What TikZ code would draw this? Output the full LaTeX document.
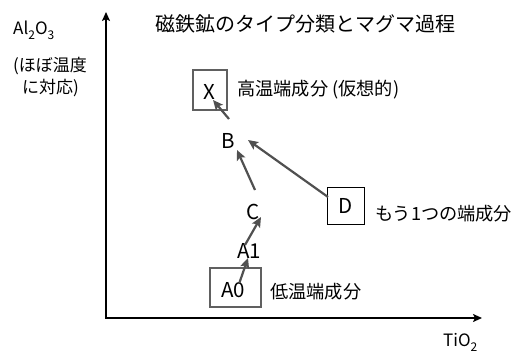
\documentclass[tikz,border=0pt]{standalone}
\usepackage{fontspec}
\setmainfont{Noto Sans CJK JP}
\usetikzlibrary{arrows.meta}
\definecolor{arrgray}{HTML}{505050}
\definecolor{boxgray}{HTML}{606060}
\newcommand\mysub[1]{\raisebox{-0.3em}{\fontsize{12}{12}\selectfont #1}}
\tikzset{
  axis/.style={line width=2pt,-{Stealth[length=9pt,width=8pt,inset=2pt]}},
  arr/.style={line width=2.2pt,arrgray,-{Stealth[length=10pt,width=9pt,inset=2pt]}},
  lbl/.style={font=\fontsize{18.2}{20}\selectfont,inner sep=0pt},
  axl/.style={font=\fontsize{17}{20}\selectfont,inner sep=0pt},
  lbox/.style={draw=boxgray,line width=1.4pt,minimum width=34pt,minimum height=38pt,inner sep=0pt},
  pt/.style={font=\fontsize{20.5}{22}\selectfont,inner sep=0pt}
}
\begin{document}
\begin{tikzpicture}[x=1pt,y=-1pt]
\useasboundingbox (0,0) rectangle (518,356);
% axes
\coordinate (O) at (106,318);
\coordinate (ytop) at (106,12);
\coordinate (xend) at (482,318);
\draw[axis] (O) -- (ytop);
\draw[axis] ([shift={(-1,0)}]O) -- (xend);
% axis labels
\node[axl,anchor=west] (al) at (13,30) {Al\mysub{2}O\mysub{3}};
\node[axl,anchor=west] (temp1) at (13,66) {(ほぼ温度};
\node[axl,anchor=west] (temp2) at (22,88) {に対応)};
\node[axl,anchor=west] (ti) at (443,342) {TiO\mysub{2}};
% title
\node[lbl,font=\fontsize{20}{22}\selectfont,anchor=west] (title) at (155,24) {磁鉄鉱のタイプ分類とマグマ過程};
% boxes and points
\node[lbox,minimum width=34pt,minimum height=40pt] (X) at (210,90) {};
\node[pt] (Xt) at (209,92) {X};
\node[lbl,anchor=west] (Xl) at (237,90) {高温端成分 (仮想的)};
\node[pt] (B) at (228,141) {B};
\node[pt] (C) at (253,212) {C};
\node[lbox,draw=black,line width=1.2pt,minimum width=37pt,minimum height=37pt,font=\fontsize{20.5}{22}\selectfont] (D) at (346,206) {D};
\node[lbl,anchor=west] (Dl) at (375,214) {もう1つの端成分};
\node[pt] (A1) at (249,251) {A1};
\node[lbox,minimum width=51pt,minimum height=39pt] (A0) at (235.5,287.5) {};
\node[pt] (A0t) at (233,290) {A0};
\node[lbl,anchor=west] (A0l) at (270,292) {低温端成分};
% arrows
\draw[arr] ([shift={(1,-22)}]B.center) -- ([shift={(3,10)}]X.center);
\draw[arr] ([shift={(2,-22)}]C.center) -- ([shift={(9,9)}]B.center);
\draw[arr] ([shift={(-18,-9)}]D.center) -- ([shift={(20,-1)}]B.center);
\draw[arr] ([shift={(-4,-6)}]A1.center) -- ([shift={(8,5)}]C.center);
\draw[arr] ([shift={(4,-5)}]A0.center) -- ([shift={(-1,7)}]A1.center);
\end{tikzpicture}
\end{document}
